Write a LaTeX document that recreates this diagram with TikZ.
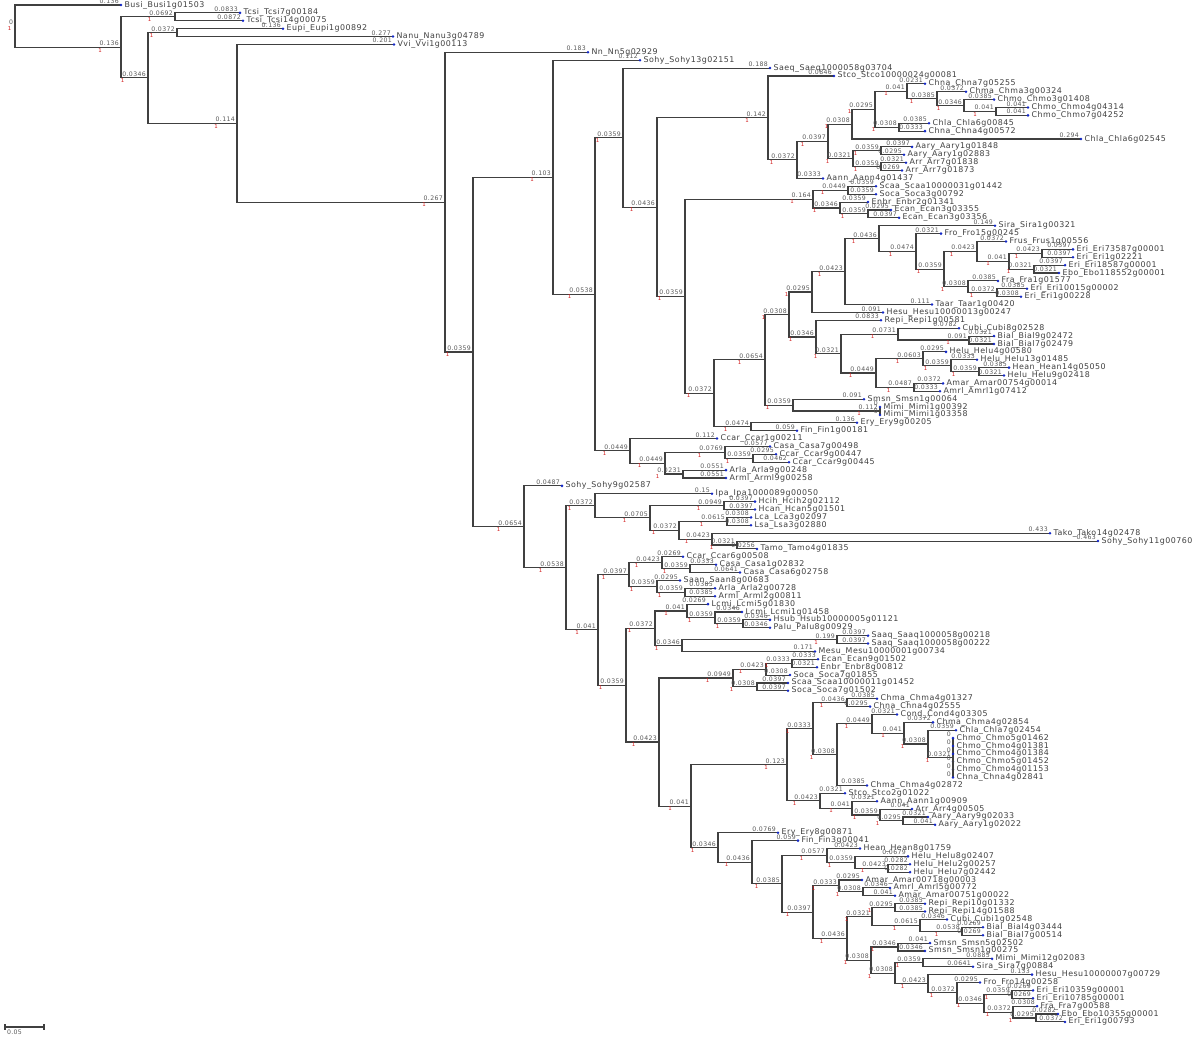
\documentclass[tikz,border=0pt]{standalone}
\usepackage{fontspec}
\usetikzlibrary{calc}
\newfontfamily\treefont[LetterSpace=6]{DejaVu Sans}
\definecolor{tipblue}{RGB}{20,40,200}
\definecolor{lengray}{RGB}{90,90,90}
\definecolor{suppred}{RGB}{210,30,30}

\tikzset{
  edge/.style={draw=black!75, line width=0.55pt},
  leaf/.style={anchor=west, inner xsep=1.6pt, inner ysep=0pt, text=black!75,
    font=\treefont\fontsize{3.95pt}{5pt}\selectfont},
  blen/.style={anchor=south east, inner xsep=0.8pt, inner ysep=0.4pt, text=lengray,
    font=\treefont\fontsize{3.1pt}{4pt}\selectfont},
  supp/.style={anchor=north west, inner sep=0.2pt, text=suppred,
    font=\treefont\fontsize{2.7pt}{3pt}\selectfont},
}

% leaf: name, tip x, row, prefix
\newcommand{\tip}[4]{\node[leaf] (#1) at (#2,{5+7.883*(#3-1)}) {#4\_#1};}
% inner node: name, x, first child, last child
\newcommand{\inode}[4]{\path ($(#3)!0.5!(#4)$) coordinate (mid); \coordinate (#1) at (#2,0 |- mid);}
% branch to inner node / to leaf
\newcommand{\br}[3]{\draw[edge] (#1) |- (#2) node[blen] (bl) {#3}; \node[supp] at (bl.south west) {1};}
\newcommand{\lbr}[3]{\draw[edge] (#1) |- (#2.west) node[blen] {#3}; \fill[tipblue] (#2.west) circle (0.7pt);}

\begin{document}
\begin{tikzpicture}[x=0.5pt, y=-0.5pt]
  \fill[white] (0,0) rectangle (1200,1040);
  \useasboundingbox (0,0) rectangle (1200,1040);

  % Leaves
  \tip{Busi1g01503}{121}{1}{Busi}
  \tip{Tcsi7g00184}{240}{2}{Tcsi}
  \tip{Tcsi14g00075}{243}{3}{Tcsi}
  \tip{Eupi1g00892}{283}{4}{Eupi}
  \tip{Nanu3g04789}{393}{5}{Nanu}
  \tip{Vvi1g00113}{394}{6}{Vvi}
  \tip{Nn5g02929}{588}{7}{Nn}
  \tip{Sohy13g02151}{640}{8}{Sohy}
  \tip{Saeq1000058g03704}{770}{9}{Saeq}
  \tip{Stco10000024g00081}{834}{10}{Stco}
  \tip{Chna7g05255}{925}{11}{Chna}
  \tip{Chma3g00324}{966}{12}{Chma}
  \tip{Chmo3g01408}{994}{13}{Chmo}
  \tip{Chmo4g04314}{1028}{14}{Chmo}
  \tip{Chmo7g04252}{1028}{15}{Chmo}
  \tip{Chla6g00845}{929}{16}{Chla}
  \tip{Chna4g00572}{925}{17}{Chna}
  \tip{Chla6g02545}{1081}{18}{Chla}
  \tip{Aary1g01848}{912}{19}{Aary}
  \tip{Aary1g02883}{904}{20}{Aary}
  \tip{Arr7g01838}{906}{21}{Arr}
  \tip{Arr7g01873}{902}{22}{Arr}
  \tip{Aann4g01437}{823}{23}{Aann}
  \tip{Scaa10000031g01442}{876}{24}{Scaa}
  \tip{Soca3g00792}{876}{25}{Soca}
  \tip{Enbr2g01341}{868}{26}{Enbr}
  \tip{Ecan3g03355}{891}{27}{Ecan}
  \tip{Ecan3g03356}{899}{28}{Ecan}
  \tip{Sira1g00321}{995}{29}{Sira}
  \tip{Fro15g00245}{941}{30}{Fro}
  \tip{Frus1g00556}{1006}{31}{Frus}
  \tip{Eri73587g00001}{1073}{32}{Eri}
  \tip{Eri1g02221}{1073}{33}{Eri}
  \tip{Eri18587g00001}{1065}{34}{Eri}
  \tip{Ebo118552g00001}{1059}{35}{Ebo}
  \tip{Fra1g01577}{998}{36}{Fra}
  \tip{Eri10015g00002}{1027}{37}{Eri}
  \tip{Eri1g00228}{1021}{38}{Eri}
  \tip{Taar1g00420}{932}{39}{Taar}
  \tip{Hesu10000013g00247}{883}{40}{Hesu}
  \tip{Repi1g00581}{881}{41}{Repi}
  \tip{Cubi8g02528}{959}{42}{Cubi}
  \tip{Bial9g02472}{994}{43}{Bial}
  \tip{Bial7g02479}{994}{44}{Bial}
  \tip{Helu4g00580}{946}{45}{Helu}
  \tip{Helu13g01485}{977}{46}{Helu}
  \tip{Hean14g05050}{1009}{47}{Hean}
  \tip{Helu9g02418}{1004}{48}{Helu}
  \tip{Amar00754g00014}{943}{49}{Amar}
  \tip{Amrl1g07412}{940}{50}{Amrl}
  \tip{Smsn1g00064}{864}{51}{Smsn}
  \tip{Mimi1g00392}{880}{52}{Mimi}
  \tip{Mimi1g03358}{880}{53}{Mimi}
  \tip{Ery9g00205}{857}{54}{Ery}
  \tip{Fin1g00181}{797}{55}{Fin}
  \tip{Ccar1g00211}{717}{56}{Ccar}
  \tip{Casa7g00498}{770}{57}{Casa}
  \tip{Ccar9g00447}{776}{58}{Ccar}
  \tip{Ccar9g00445}{789}{59}{Ccar}
  \tip{Arla9g00248}{726}{60}{Arla}
  \tip{Arml9g00258}{726}{61}{Arml}
  \tip{Sohy9g02587}{562}{62}{Sohy}
  \tip{Ipa1000089g00050}{712}{63}{Ipa}
  \tip{Hcih2g02112}{755}{64}{Hcih}
  \tip{Hcan5g01501}{755}{65}{Hcan}
  \tip{Lca3g02097}{751}{66}{Lca}
  \tip{Lsa3g02880}{751}{67}{Lsa}
  \tip{Tako14g02478}{1050}{68}{Tako}
  \tip{Sohy11g00760}{1098}{69}{Sohy}
  \tip{Tamo4g01835}{757}{70}{Tamo}
  \tip{Ccar6g00508}{683}{71}{Ccar}
  \tip{Casa1g02832}{716}{72}{Casa}
  \tip{Casa6g02758}{740}{73}{Casa}
  \tip{Saan8g00683}{680}{74}{Saan}
  \tip{Arla2g00728}{715}{75}{Arla}
  \tip{Arml2g00811}{715}{76}{Arml}
  \tip{Lcmi5g01830}{708}{77}{Lcmi}
  \tip{Lcmi1g01458}{742}{78}{Lcmi}
  \tip{Hsub10000005g01121}{770}{79}{Hsub}
  \tip{Palu8g00929}{770}{80}{Palu}
  \tip{Saaq1000058g00218}{868}{81}{Saaq}
  \tip{Saaq1000058g00222}{868}{82}{Saaq}
  \tip{Mesu10000001g00734}{815}{83}{Mesu}
  \tip{Ecan9g01502}{818}{84}{Ecan}
  \tip{Enbr8g00812}{817}{85}{Enbr}
  \tip{Soca7g01855}{790}{86}{Soca}
  \tip{Scaa10000011g01452}{788}{87}{Scaa}
  \tip{Soca7g01502}{788}{88}{Soca}
  \tip{Chma4g01327}{877}{89}{Chma}
  \tip{Chna4g02555}{870}{90}{Chna}
  \tip{Cond4g03305}{897}{91}{Cond}
  \tip{Chma4g02854}{933}{92}{Chma}
  \tip{Chla7g02454}{956}{93}{Chla}
  \tip{Chmo5g01462}{953}{94}{Chmo}
  \tip{Chmo4g01381}{953}{95}{Chmo}
  \tip{Chmo4g01384}{953}{96}{Chmo}
  \tip{Chmo5g01452}{953}{97}{Chmo}
  \tip{Chmo4g01153}{953}{98}{Chmo}
  \tip{Chna4g02841}{953}{99}{Chna}
  \tip{Chma4g02872}{867}{100}{Chma}
  \tip{Stco2g01022}{845}{101}{Stco}
  \tip{Aann1g00909}{877}{102}{Aann}
  \tip{Arr4g00505}{912}{103}{Arr}
  \tip{Aary9g02033}{928}{104}{Aary}
  \tip{Aary1g02022}{935}{105}{Aary}
  \tip{Ery8g00871}{778}{106}{Ery}
  \tip{Fin3g00041}{798}{107}{Fin}
  \tip{Hean8g01759}{860}{108}{Hean}
  \tip{Helu8g02407}{908}{109}{Helu}
  \tip{Helu2g00257}{910}{110}{Helu}
  \tip{Helu7g02442}{910}{111}{Helu}
  \tip{Amar00718g00003}{862}{112}{Amar}
  \tip{Amrl5g00772}{890}{113}{Amrl}
  \tip{Amar00751g00022}{895}{114}{Amar}
  \tip{Repi10g01332}{925}{115}{Repi}
  \tip{Repi14g01588}{925}{116}{Repi}
  \tip{Cubi1g02548}{947}{117}{Cubi}
  \tip{Bial4g03444}{983}{118}{Bial}
  \tip{Bial7g00514}{983}{119}{Bial}
  \tip{Smsn5g02502}{930}{120}{Smsn}
  \tip{Smsn1g00275}{925}{121}{Smsn}
  \tip{Mimi12g02083}{992}{122}{Mimi}
  \tip{Sira7g00884}{973}{123}{Sira}
  \tip{Hesu10000007g00729}{1032}{124}{Hesu}
  \tip{Fro14g00258}{980}{125}{Fro}
  \tip{Eri10359g00001}{1033}{126}{Eri}
  \tip{Eri10785g00001}{1033}{127}{Eri}
  \tip{Fra7g00588}{1037}{128}{Fra}
  \tip{Ebo10355g00001}{1058}{129}{Ebo}
  \tip{Eri1g00793}{1065}{130}{Eri}

  % Inner nodes, children first
  \inode{nB}{175}{Tcsi7g00184}{Tcsi14g00075}
  \inode{nD}{177}{Eupi1g00892}{Nanu3g04789}
  \inode{nQf}{996}{Chmo4g04314}{Chmo7g04252}
  \inode{nQe}{964}{Chmo3g01408}{nQf}
  \inode{nQd}{937}{Chma3g00324}{nQe}
  \inode{nQb}{907}{Chna7g05255}{nQd}
  \inode{nQc}{899}{Chla6g00845}{Chna4g00572}
  \inode{nQa}{875}{nQb}{nQc}
  \inode{nQ}{852}{nQa}{Chla6g02545}
  \inode{nAr1}{881}{Aary1g01848}{Aary1g02883}
  \inode{nAr2}{881}{Arr7g01838}{Arr7g01873}
  \inode{nAr}{853}{nAr1}{nAr2}
  \inode{nPa}{828}{nQ}{nAr}
  \inode{nP}{797}{nPa}{Aann4g01437}
  \inode{nN}{768}{Stco10000024g00081}{nP}
  \inode{nS1}{848}{Scaa10000031g01442}{Soca3g00792}
  \inode{nS3}{868}{Ecan3g03355}{Ecan3g03356}
  \inode{nS2}{840}{Enbr2g01341}{nS3}
  \inode{nS}{813}{nS1}{nS2}
  \inode{nE1}{1042}{Eri73587g00001}{Eri1g02221}
  \inode{nE2}{1034}{Eri18587g00001}{Ebo118552g00001}
  \inode{nE3}{1009}{nE1}{nE2}
  \inode{nE4}{977}{Frus1g00556}{nE3}
  \inode{nE5}{997}{Eri10015g00002}{Eri1g00228}
  \inode{nE6}{968}{Fra1g01577}{nE5}
  \inode{nE7}{944}{nE4}{nE6}
  \inode{nE8}{916}{Fro15g00245}{nE7}
  \inode{nE9}{879}{Sira1g00321}{nE8}
  \inode{nE10}{845}{nE9}{Taar1g00420}
  \inode{nE11}{812}{nE10}{Hesu10000013g00247}
  \inode{nYb}{969}{Bial9g02472}{Bial7g02479}
  \inode{nY3}{898}{Cubi8g02528}{nYb}
  \inode{nY7}{979}{Hean14g05050}{Helu9g02418}
  \inode{nY6}{951}{Helu13g01485}{nY7}
  \inode{nY5}{923}{Helu4g00580}{nY6}
  \inode{nY8}{914}{Amar00754g00014}{Amrl1g07412}
  \inode{nY4}{876}{nY5}{nY8}
  \inode{nY2}{841}{nY3}{nY4}
  \inode{nY}{816}{Repi1g00581}{nY2}
  \inode{nT2}{789}{nE11}{nY}
  \inode{nXm}{880}{Mimi1g00392}{Mimi1g03358}
  \inode{nX}{793}{Smsn1g00064}{nXm}
  \inode{nT1}{765}{nT2}{nX}
  \inode{nW}{751}{Ery9g00205}{Fin1g00181}
  \inode{nT}{714}{nT1}{nW}
  \inode{nO}{685}{nS}{nT}
  \inode{nM}{657}{nN}{nO}
  \inode{nK}{623}{Saeq1000058g03704}{nM}
  \inode{nL4}{753}{Ccar9g00447}{Ccar9g00445}
  \inode{nL3}{725}{Casa7g00498}{nL4}
  \inode{nL5}{683}{Arla9g00248}{Arml9g00258}
  \inode{nL2}{665}{nL3}{nL5}
  \inode{nL}{630}{Ccar1g00211}{nL2}
  \inode{nJ}{595}{nK}{nL}
  \inode{nH}{553}{Sohy13g02151}{nJ}
  \inode{nIh}{724}{Hcih2g02112}{Hcan5g01501}
  \inode{nIl}{727}{Lca3g02097}{Lsa3g02880}
  \inode{nI8}{737}{Sohy11g00760}{Tamo4g01835}
  \inode{nI7}{712}{Tako14g02478}{nI8}
  \inode{nI6}{679}{nIl}{nI7}
  \inode{nI5}{650}{nIh}{nI6}
  \inode{nI3}{595}{Ipa1000089g00050}{nI5}
  \inode{nI13}{690}{Casa1g02832}{Casa6g02758}
  \inode{nI11}{662}{Ccar6g00508}{nI13}
  \inode{nI14}{685}{Arla2g00728}{Arml2g00811}
  \inode{nI12}{657}{Saan8g00683}{nI14}
  \inode{nI9}{629}{nI11}{nI12}
  \inode{nI20}{743}{Hsub10000005g01121}{Palu8g00929}
  \inode{nI19}{715}{Lcmi1g01458}{nI20}
  \inode{nI17}{687}{Lcmi5g01830}{nI19}
  \inode{nI21}{837}{Saaq1000058g00218}{Saaq1000058g00222}
  \inode{nI18}{682}{nI21}{Mesu10000001g00734}
  \inode{nI15}{655}{nI17}{nI18}
  \inode{nI24}{792}{Ecan9g01502}{Enbr8g00812}
  \inode{nI23}{766}{nI24}{Soca7g01855}
  \inode{nI25}{757}{Scaa10000011g01452}{Soca7g01502}
  \inode{nI22}{733}{nI23}{nI25}
  \inode{nI29}{847}{Chma4g01327}{Chna4g02555}
  \inode{nI34}{953}{Chmo5g01462}{Chna4g02841}
  \inode{nI33}{928}{Chla7g02454}{nI34}
  \inode{nI32}{904}{Chma4g02854}{nI33}
  \inode{nI31}{872}{Cond4g03305}{nI32}
  \inode{nI30}{837}{nI31}{Chma4g02872}
  \inode{nI28}{813}{nI29}{nI30}
  \inode{nI38}{903}{Aary9g02033}{Aary1g02022}
  \inode{nI37}{880}{Arr4g00505}{nI38}
  \inode{nI36}{852}{Aann1g00909}{nI37}
  \inode{nI35}{820}{Stco2g01022}{nI36}
  \inode{nI27}{787}{nI28}{nI35}
  \inode{nI46}{888}{Helu2g00257}{Helu7g02442}
  \inode{nI45}{855}{Helu8g02407}{nI46}
  \inode{nI43}{827}{Hean8g01759}{nI45}
  \inode{nI49}{863}{Amrl5g00772}{Amar00751g00022}
  \inode{nI47}{839}{Amar00718g00003}{nI49}
  \inode{nI52}{895}{Repi10g01332}{Repi14g01588}
  \inode{nIb}{962}{Bial4g03444}{Bial7g00514}
  \inode{nI53}{920}{Cubi1g02548}{nIb}
  \inode{nI50}{872}{nI52}{nI53}
  \inode{nI54}{898}{Smsn5g02502}{Smsn1g00275}
  \inode{nI56}{923}{Mimi12g02083}{Sira7g00884}
  \inode{nI62}{1036}{Ebo10355g00001}{Eri1g00793}
  \inode{nI61}{1013}{Fra7g00588}{nI62}
  \inode{nI60}{1012}{Eri10359g00001}{Eri10785g00001}
  \inode{nI59}{984}{nI60}{nI61}
  \inode{nI58}{957}{Fro14g00258}{nI59}
  \inode{nI57}{928}{Hesu10000007g00729}{nI58}
  \inode{nI55}{895}{nI56}{nI57}
  \inode{nI51}{871}{nI54}{nI55}
  \inode{nI48}{847}{nI50}{nI51}
  \inode{nI44}{813}{nI47}{nI48}
  \inode{nI42}{782}{nI43}{nI44}
  \inode{nI41}{752}{Fin3g00041}{nI42}
  \inode{nI39}{718}{Ery8g00871}{nI41}
  \inode{nI26}{691}{nI27}{nI39}
  \inode{nI16}{659}{nI22}{nI26}
  \inode{nI10}{626}{nI15}{nI16}
  \inode{nI4}{598}{nI9}{nI10}
  \inode{nI2}{566}{nI3}{nI4}
  \inode{nI}{524}{Sohy9g02587}{nI2}
  \inode{nG}{473}{nH}{nI}
  \inode{nF}{445}{Nn5g02929}{nG}
  \inode{nE}{237}{Vvi1g00113}{nF}
  \inode{nC}{148}{nD}{nE}
  \inode{nA}{121}{nB}{nC}
  \inode{root}{15}{Busi1g01503}{nA}

  % Branches
  \node[blen] (bl) at (root) {0}; \node[supp] at (bl.south west) {1};
  \lbr{root}{Busi1g01503}{0.136}
  \br{root}{nA}{0.136}
  \br{nA}{nB}{0.0692}
  \lbr{nB}{Tcsi7g00184}{0.0833}
  \lbr{nB}{Tcsi14g00075}{0.0872}
  \br{nA}{nC}{0.0346}
  \br{nC}{nD}{0.0372}
  \lbr{nD}{Eupi1g00892}{0.136}
  \lbr{nD}{Nanu3g04789}{0.277}
  \br{nC}{nE}{0.114}
  \lbr{nE}{Vvi1g00113}{0.201}
  \br{nE}{nF}{0.267}
  \lbr{nF}{Nn5g02929}{0.183}
  \br{nF}{nG}{0.0359}
  \br{nG}{nH}{0.103}
  \lbr{nH}{Sohy13g02151}{0.112}
  \br{nH}{nJ}{0.0538}
  \br{nJ}{nK}{0.0359}
  \lbr{nK}{Saeq1000058g03704}{0.188}
  \br{nK}{nM}{0.0436}
  \br{nM}{nN}{0.142}
  \lbr{nN}{Stco10000024g00081}{0.0846}
  \br{nN}{nP}{0.0372}
  \br{nP}{nPa}{0.0397}
  \lbr{nP}{Aann4g01437}{0.0333}
  \br{nPa}{nQ}{0.0308}
  \br{nPa}{nAr}{0.0321}
  \br{nQ}{nQa}{0.0295}
  \lbr{nQ}{Chla6g02545}{0.294}
  \br{nQa}{nQb}{0.041}
  \br{nQa}{nQc}{0.0308}
  \lbr{nQb}{Chna7g05255}{0.0231}
  \br{nQb}{nQd}{0.0385}
  \lbr{nQd}{Chma3g00324}{0.0372}
  \br{nQd}{nQe}{0.0346}
  \lbr{nQe}{Chmo3g01408}{0.0385}
  \br{nQe}{nQf}{0.041}
  \lbr{nQf}{Chmo4g04314}{0.041}
  \lbr{nQf}{Chmo7g04252}{0.041}
  \lbr{nQc}{Chla6g00845}{0.0385}
  \lbr{nQc}{Chna4g00572}{0.0333}
  \br{nAr}{nAr1}{0.0359}
  \br{nAr}{nAr2}{0.0359}
  \lbr{nAr1}{Aary1g01848}{0.0397}
  \lbr{nAr1}{Aary1g02883}{0.0295}
  \lbr{nAr2}{Arr7g01838}{0.0321}
  \lbr{nAr2}{Arr7g01873}{0.0269}
  \br{nM}{nO}{0.0359}
  \br{nO}{nS}{0.164}
  \br{nS}{nS1}{0.0449}
  \br{nS}{nS2}{0.0346}
  \lbr{nS1}{Scaa10000031g01442}{0.0359}
  \lbr{nS1}{Soca3g00792}{0.0359}
  \lbr{nS2}{Enbr2g01341}{0.0359}
  \br{nS2}{nS3}{0.0359}
  \lbr{nS3}{Ecan3g03355}{0.0295}
  \lbr{nS3}{Ecan3g03356}{0.0397}
  \br{nO}{nT}{0.0372}
  \br{nT}{nT1}{0.0654}
  \br{nT}{nW}{0.0474}
  \br{nT1}{nT2}{0.0308}
  \br{nT1}{nX}{0.0359}
  \br{nT2}{nE11}{0.0295}
  \br{nT2}{nY}{0.0346}
  \br{nE11}{nE10}{0.0423}
  \lbr{nE11}{Hesu10000013g00247}{0.091}
  \br{nE10}{nE9}{0.0436}
  \lbr{nE10}{Taar1g00420}{0.111}
  \lbr{nE9}{Sira1g00321}{0.149}
  \br{nE9}{nE8}{0.0474}
  \lbr{nE8}{Fro15g00245}{0.0321}
  \br{nE8}{nE7}{0.0359}
  \br{nE7}{nE4}{0.0423}
  \br{nE7}{nE6}{0.0308}
  \lbr{nE4}{Frus1g00556}{0.0372}
  \br{nE4}{nE3}{0.041}
  \br{nE3}{nE1}{0.0423}
  \br{nE3}{nE2}{0.0321}
  \lbr{nE1}{Eri73587g00001}{0.0397}
  \lbr{nE1}{Eri1g02221}{0.0397}
  \lbr{nE2}{Eri18587g00001}{0.0397}
  \lbr{nE2}{Ebo118552g00001}{0.0321}
  \lbr{nE6}{Fra1g01577}{0.0385}
  \br{nE6}{nE5}{0.0372}
  \lbr{nE5}{Eri10015g00002}{0.0385}
  \lbr{nE5}{Eri1g00228}{0.0308}
  \lbr{nY}{Repi1g00581}{0.0833}
  \br{nY}{nY2}{0.0321}
  \br{nY2}{nY3}{0.0731}
  \br{nY2}{nY4}{0.0449}
  \lbr{nY3}{Cubi8g02528}{0.0782}
  \br{nY3}{nYb}{0.091}
  \lbr{nYb}{Bial9g02472}{0.0321}
  \lbr{nYb}{Bial7g02479}{0.0321}
  \br{nY4}{nY5}{0.0603}
  \br{nY4}{nY8}{0.0487}
  \lbr{nY5}{Helu4g00580}{0.0295}
  \br{nY5}{nY6}{0.0359}
  \lbr{nY6}{Helu13g01485}{0.0333}
  \br{nY6}{nY7}{0.0359}
  \lbr{nY7}{Hean14g05050}{0.0385}
  \lbr{nY7}{Helu9g02418}{0.0321}
  \lbr{nY8}{Amar00754g00014}{0.0372}
  \lbr{nY8}{Amrl1g07412}{0.0333}
  \lbr{nX}{Smsn1g00064}{0.091}
  \br{nX}{nXm}{0.112}
  \lbr{nXm}{Mimi1g00392}{0}
  \lbr{nXm}{Mimi1g03358}{0}
  \lbr{nW}{Ery9g00205}{0.136}
  \lbr{nW}{Fin1g00181}{0.059}
  \br{nJ}{nL}{0.0449}
  \lbr{nL}{Ccar1g00211}{0.112}
  \br{nL}{nL2}{0.0449}
  \br{nL2}{nL3}{0.0769}
  \br{nL2}{nL5}{0.0231}
  \lbr{nL3}{Casa7g00498}{0.0577}
  \br{nL3}{nL4}{0.0359}
  \lbr{nL4}{Ccar9g00447}{0.0295}
  \lbr{nL4}{Ccar9g00445}{0.0462}
  \lbr{nL5}{Arla9g00248}{0.0551}
  \lbr{nL5}{Arml9g00258}{0.0551}
  \br{nG}{nI}{0.0654}
  \lbr{nI}{Sohy9g02587}{0.0487}
  \br{nI}{nI2}{0.0538}
  \br{nI2}{nI3}{0.0372}
  \br{nI2}{nI4}{0.041}
  \lbr{nI3}{Ipa1000089g00050}{0.15}
  \br{nI3}{nI5}{0.0705}
  \br{nI5}{nIh}{0.0949}
  \br{nI5}{nI6}{0.0372}
  \lbr{nIh}{Hcih2g02112}{0.0397}
  \lbr{nIh}{Hcan5g01501}{0.0397}
  \br{nI6}{nIl}{0.0615}
  \br{nI6}{nI7}{0.0423}
  \lbr{nIl}{Lca3g02097}{0.0308}
  \lbr{nIl}{Lsa3g02880}{0.0308}
  \lbr{nI7}{Tako14g02478}{0.433}
  \br{nI7}{nI8}{0.0321}
  \lbr{nI8}{Sohy11g00760}{0.463}
  \lbr{nI8}{Tamo4g01835}{0.0256}
  \br{nI4}{nI9}{0.0397}
  \br{nI4}{nI10}{0.0359}
  \br{nI9}{nI11}{0.0423}
  \br{nI9}{nI12}{0.0359}
  \lbr{nI11}{Ccar6g00508}{0.0269}
  \br{nI11}{nI13}{0.0359}
  \lbr{nI13}{Casa1g02832}{0.0333}
  \lbr{nI13}{Casa6g02758}{0.0641}
  \lbr{nI12}{Saan8g00683}{0.0295}
  \br{nI12}{nI14}{0.0359}
  \lbr{nI14}{Arla2g00728}{0.0385}
  \lbr{nI14}{Arml2g00811}{0.0385}
  \br{nI10}{nI15}{0.0372}
  \br{nI10}{nI16}{0.0423}
  \br{nI15}{nI17}{0.041}
  \br{nI15}{nI18}{0.0346}
  \lbr{nI17}{Lcmi5g01830}{0.0269}
  \br{nI17}{nI19}{0.0359}
  \lbr{nI19}{Lcmi1g01458}{0.0346}
  \br{nI19}{nI20}{0.0359}
  \lbr{nI20}{Hsub10000005g01121}{0.0346}
  \lbr{nI20}{Palu8g00929}{0.0346}
  \br{nI18}{nI21}{0.199}
  \lbr{nI18}{Mesu10000001g00734}{0.171}
  \lbr{nI21}{Saaq1000058g00218}{0.0397}
  \lbr{nI21}{Saaq1000058g00222}{0.0397}
  \br{nI16}{nI22}{0.0949}
  \br{nI16}{nI26}{0.041}
  \br{nI22}{nI23}{0.0423}
  \br{nI22}{nI25}{0.0308}
  \br{nI23}{nI24}{0.0333}
  \lbr{nI23}{Soca7g01855}{0.0308}
  \lbr{nI24}{Ecan9g01502}{0.0333}
  \lbr{nI24}{Enbr8g00812}{0.0321}
  \lbr{nI25}{Scaa10000011g01452}{0.0397}
  \lbr{nI25}{Soca7g01502}{0.0397}
  \br{nI26}{nI27}{0.123}
  \br{nI26}{nI39}{0.0346}
  \br{nI27}{nI28}{0.0333}
  \br{nI27}{nI35}{0.0423}
  \br{nI28}{nI29}{0.0436}
  \br{nI28}{nI30}{0.0308}
  \lbr{nI29}{Chma4g01327}{0.0385}
  \lbr{nI29}{Chna4g02555}{0.0295}
  \br{nI30}{nI31}{0.0449}
  \lbr{nI30}{Chma4g02872}{0.0385}
  \lbr{nI31}{Cond4g03305}{0.0321}
  \br{nI31}{nI32}{0.041}
  \lbr{nI32}{Chma4g02854}{0.0372}
  \br{nI32}{nI33}{0.0308}
  \lbr{nI33}{Chla7g02454}{0.0359}
  \br{nI33}{nI34}{0.0321}
  \foreach \g in {Chmo5g01462,Chmo4g01381,Chmo4g01384,Chmo5g01452,Chmo4g01153,Chna4g02841}
    {\lbr{nI34}{\g}{0}}
  \lbr{nI35}{Stco2g01022}{0.0321}
  \br{nI35}{nI36}{0.041}
  \lbr{nI36}{Aann1g00909}{0.0321}
  \br{nI36}{nI37}{0.0359}
  \lbr{nI37}{Arr4g00505}{0.041}
  \br{nI37}{nI38}{0.0295}
  \lbr{nI38}{Aary9g02033}{0.0321}
  \lbr{nI38}{Aary1g02022}{0.041}
  \lbr{nI39}{Ery8g00871}{0.0769}
  \br{nI39}{nI41}{0.0436}
  \lbr{nI41}{Fin3g00041}{0.059}
  \br{nI41}{nI42}{0.0385}
  \br{nI42}{nI43}{0.0577}
  \br{nI42}{nI44}{0.0397}
  \lbr{nI43}{Hean8g01759}{0.0423}
  \br{nI43}{nI45}{0.0359}
  \lbr{nI45}{Helu8g02407}{0.0679}
  \br{nI45}{nI46}{0.0423}
  \lbr{nI46}{Helu2g00257}{0.0282}
  \lbr{nI46}{Helu7g02442}{0.0282}
  \br{nI44}{nI47}{0.0333}
  \br{nI44}{nI48}{0.0436}
  \lbr{nI47}{Amar00718g00003}{0.0295}
  \br{nI47}{nI49}{0.0308}
  \lbr{nI49}{Amrl5g00772}{0.0346}
  \lbr{nI49}{Amar00751g00022}{0.041}
  \br{nI48}{nI50}{0.0321}
  \br{nI48}{nI51}{0.0308}
  \br{nI50}{nI52}{0.0295}
  \br{nI50}{nI53}{0.0615}
  \lbr{nI52}{Repi10g01332}{0.0385}
  \lbr{nI52}{Repi14g01588}{0.0385}
  \lbr{nI53}{Cubi1g02548}{0.0346}
  \br{nI53}{nIb}{0.0538}
  \lbr{nIb}{Bial4g03444}{0.0269}
  \lbr{nIb}{Bial7g00514}{0.0269}
  \br{nI51}{nI54}{0.0346}
  \br{nI51}{nI55}{0.0308}
  \lbr{nI54}{Smsn5g02502}{0.041}
  \lbr{nI54}{Smsn1g00275}{0.0346}
  \br{nI55}{nI56}{0.0359}
  \br{nI55}{nI57}{0.0423}
  \lbr{nI56}{Mimi12g02083}{0.0885}
  \lbr{nI56}{Sira7g00884}{0.0641}
  \lbr{nI57}{Hesu10000007g00729}{0.133}
  \br{nI57}{nI58}{0.0372}
  \lbr{nI58}{Fro14g00258}{0.0295}
  \br{nI58}{nI59}{0.0346}
  \br{nI59}{nI60}{0.0359}
  \br{nI59}{nI61}{0.0372}
  \lbr{nI60}{Eri10359g00001}{0.0269}
  \lbr{nI60}{Eri10785g00001}{0.0269}
  \lbr{nI61}{Fra7g00588}{0.0308}
  \br{nI61}{nI62}{0.0295}
  \lbr{nI62}{Ebo10355g00001}{0.0282}
  \lbr{nI62}{Eri1g00793}{0.0372}

  % Scale bar
  \coordinate (sb0) at (5,1027);
  \coordinate (sb1) at (44,1027);
  \draw[edge] (sb0) -- (sb1);
  \draw[edge] (5,1024) -- (5,1030);
  \draw[edge] (44,1024) -- (44,1030);
  \node[blen, anchor=north west] at (5,1029) {0.05};
\end{tikzpicture}
\end{document}
